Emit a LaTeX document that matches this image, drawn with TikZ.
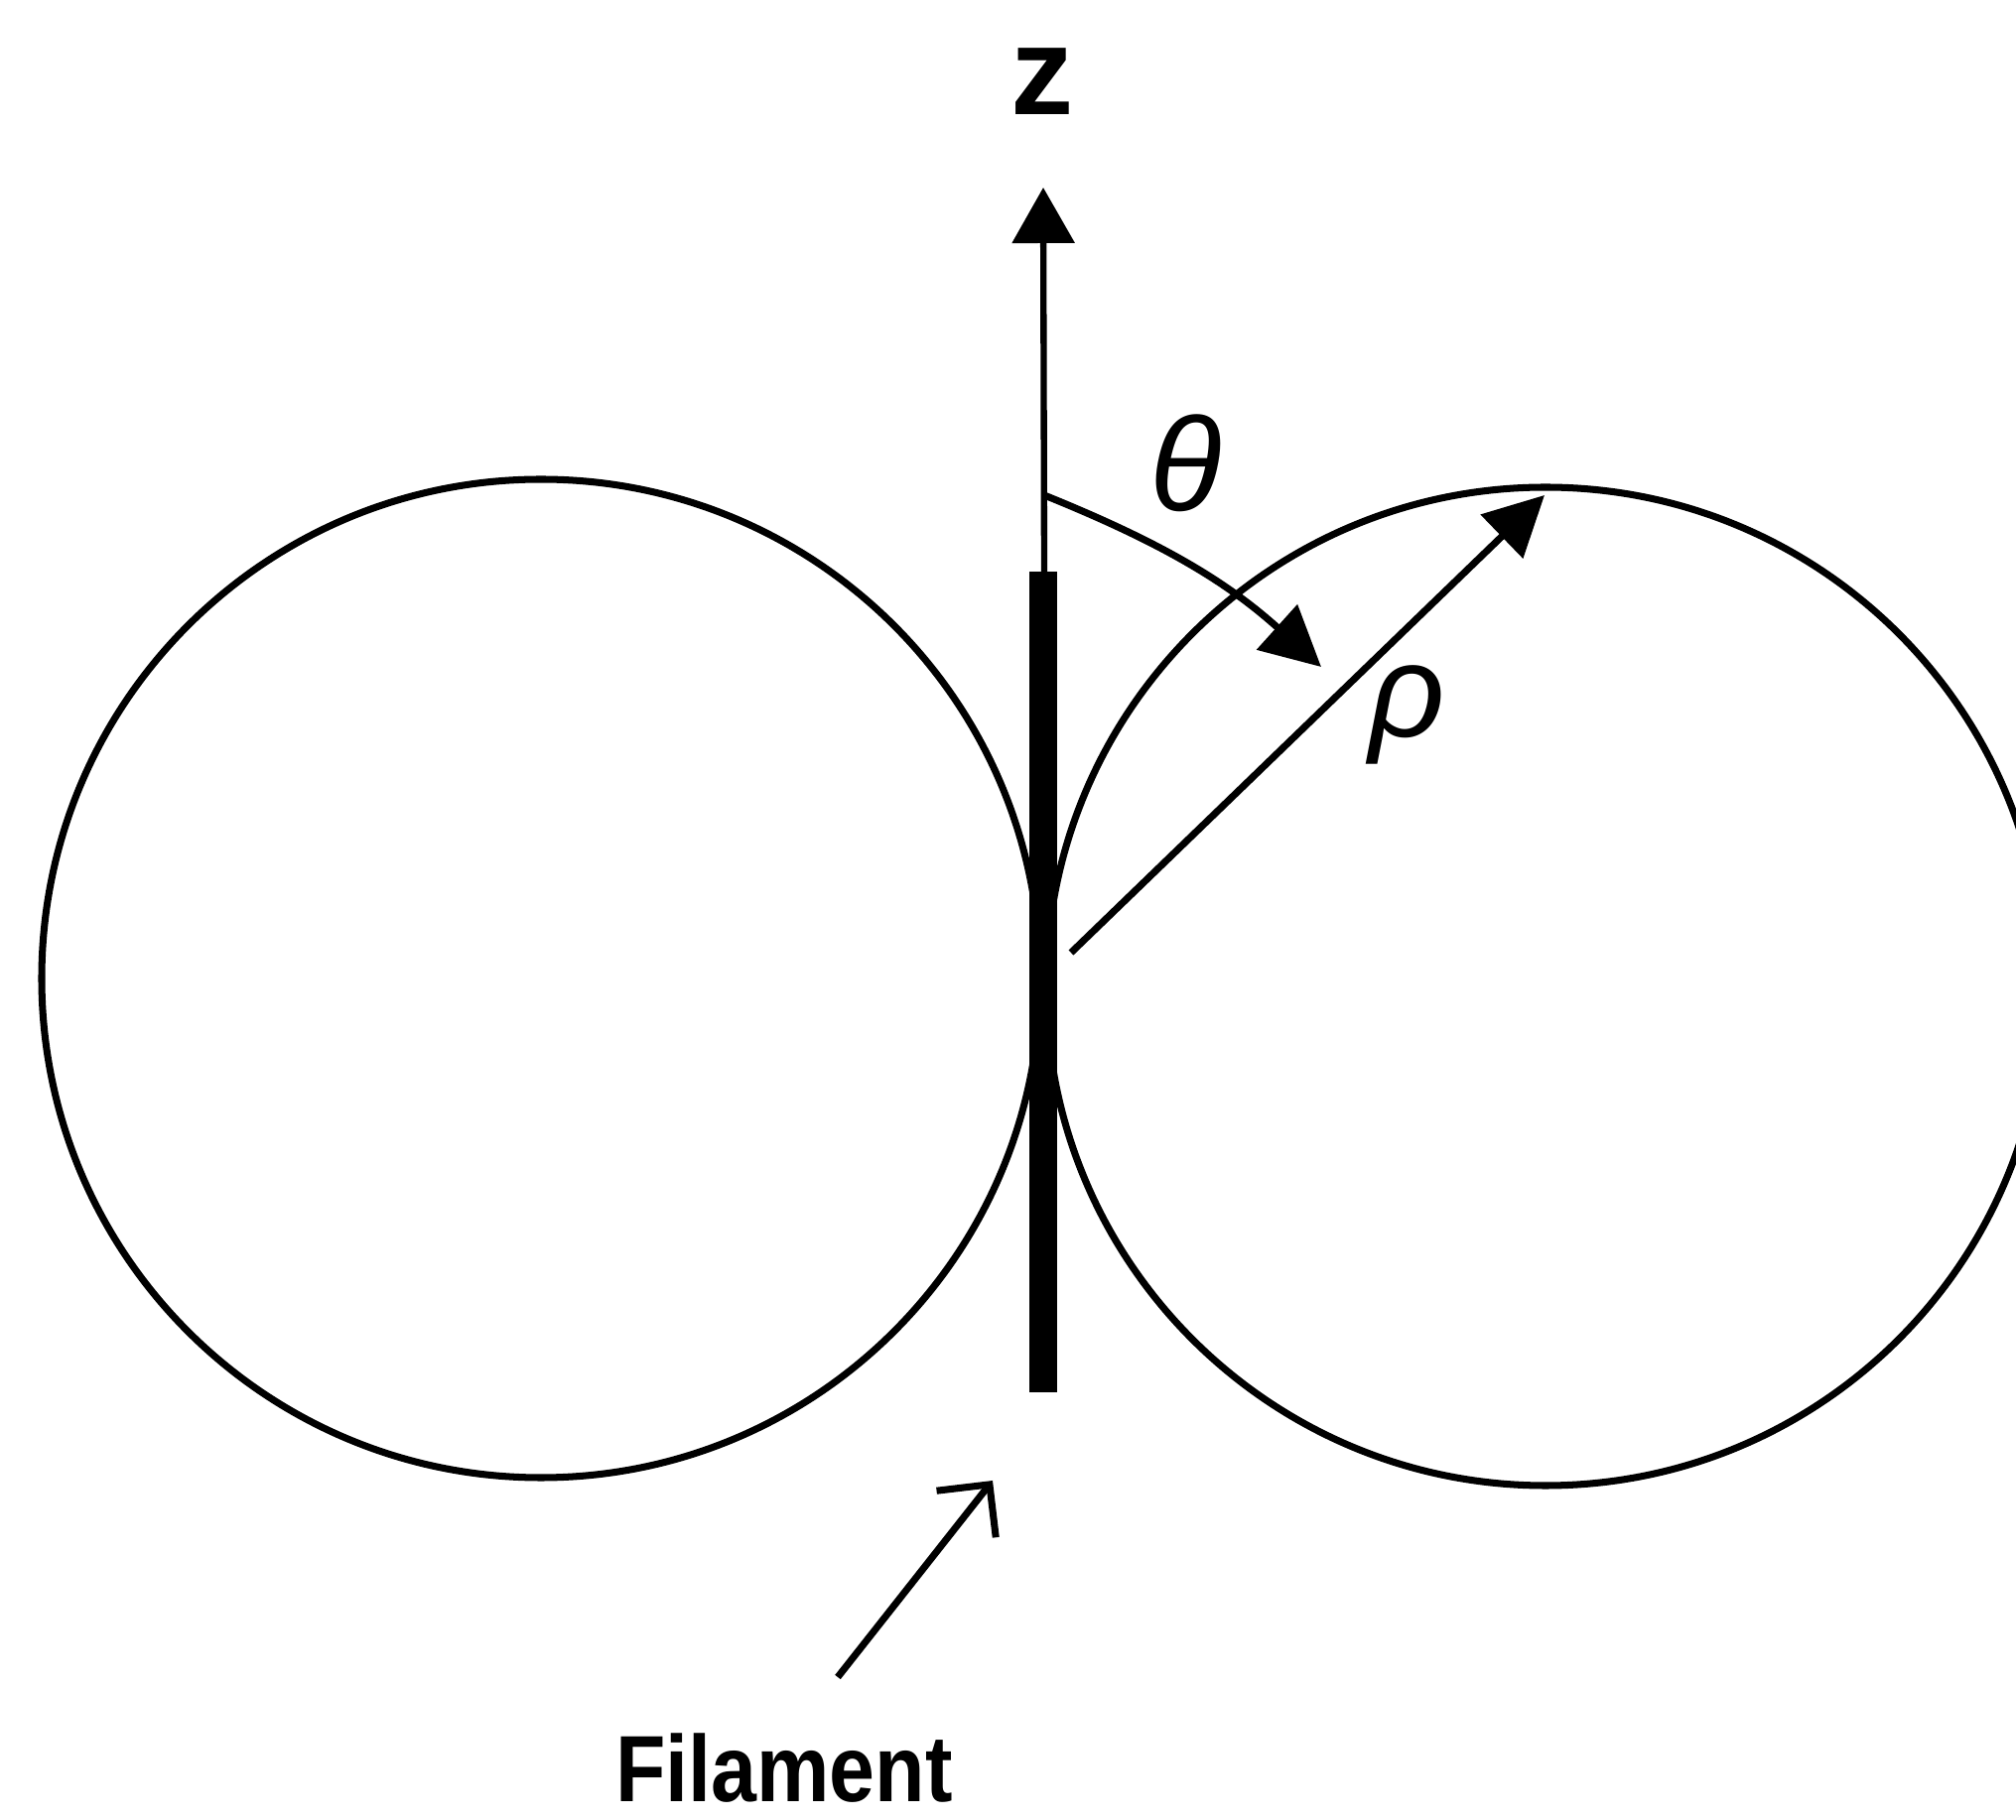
\documentclass[tikz,border=0pt]{standalone}
\usepackage{fontspec}
\setmainfont{Liberation Sans}
\newfontfamily\filfont{Liberation Sans}[FakeStretch=0.87]
\usepackage{xcolor}
\usepackage{tikz}
\usetikzlibrary{arrows.meta, positioning, calc}
\definecolor{inkblack}{RGB}{0,0,0}
\tikzset{
  lobe/.style={draw=inkblack, line width=2pt},
  wire/.style={fill=inkblack},
  zaxis/.style={draw=inkblack, line width=1.8pt, -{Triangle[length=5.6mm, width=6.2mm]}},
  dim/.style={draw=inkblack, line width=2pt, -{Triangle[length=6mm, width=6mm]}},
  ptr/.style={draw=inkblack, line width=2pt, -{Straight Barb[length=3.8mm, width=7.6mm]}},
  sym/.style={font=\fontsize{38pt}{40pt}\selectfont\itshape, inner sep=0pt},
  axlbl/.style={font=\fontsize{36pt}{38pt}\selectfont\bfseries, inner sep=0pt},
  lbl/.style={font=\filfont\fontsize{27pt}{30pt}\selectfont\bfseries, inner sep=0pt}
}

\begin{document}
\begin{tikzpicture}[>=Stealth]
  \useasboundingbox (0,0) rectangle (203.1mm,-183.4mm);
  \clip (0,0) rectangle (203.1mm,-183.4mm);
  \draw[lobe] (54.5mm,-98.6mm) circle (50.3mm);
  \draw[lobe] (155.7mm,-99.4mm) circle (50.3mm);
  \fill[wire] (103.7mm,-57.6mm) rectangle (106.5mm,-140.3mm);
  \coordinate (zfrom) at (105.2mm,-57.6mm);
  \coordinate (zto) at (105.1mm,-18.9mm);
  \draw[zaxis] (zfrom) -- (zto);
  \node[axlbl] (zlab) at (105mm,-8.2mm) {z};
  \coordinate (thfrom) at (105.2mm,-49.9mm);
  \coordinate (thto) at (133.1mm,-67.2mm);
  \draw[dim] (thfrom) to[out=-22, in=138] (thto);
  \node[sym] (thlab) at (119.5mm,-46.7mm) {θ};
  \coordinate (rhofrom) at (107.9mm,-96.0mm);
  \coordinate (rhoto) at (155.6mm,-49.9mm);
  \draw[dim] (rhofrom) -- (rhoto);
  \node[sym] (rholab) at (141.8mm,-72.0mm) {ρ};
  \node[lbl, anchor=base] (fillab) at (79mm,-181.6mm) {Filament};
  \coordinate (ptrtail) at (84.4mm,-169mm);
  \coordinate (ptrtip) at (100mm,-149.2mm);
  \draw[ptr] (ptrtail) -- (ptrtip);
\end{tikzpicture}
\end{document}
